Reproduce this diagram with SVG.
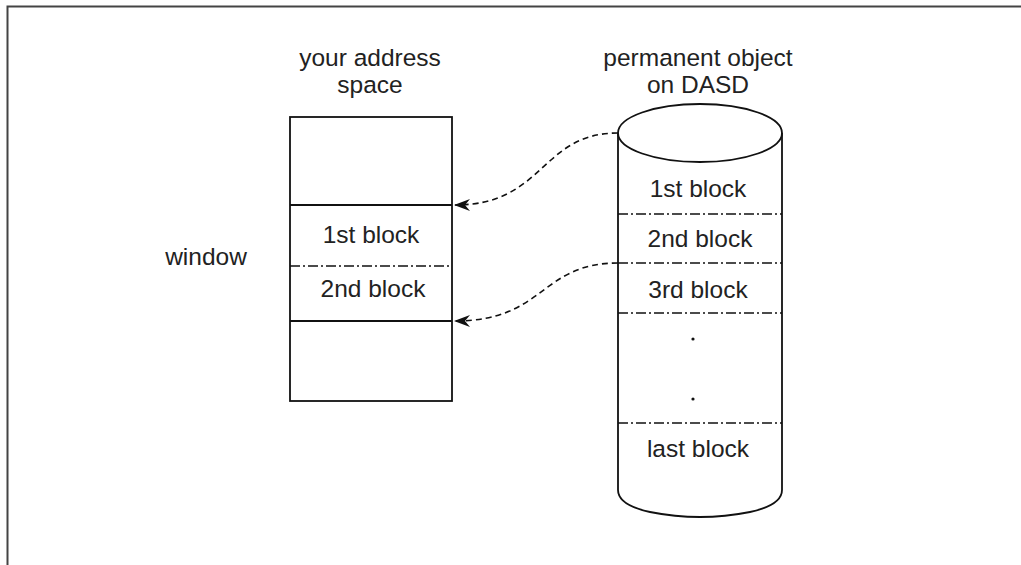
<svg xmlns="http://www.w3.org/2000/svg" width="1021" height="565" viewBox="0 0 1021 565">
<style>
text{font-family:"Liberation Sans",Arial,sans-serif;font-size:24.5px;fill:#222;text-anchor:middle}
.s{fill:none;stroke:#111;stroke-width:1.8}
.dd{fill:none;stroke:#111;stroke-width:1.7;stroke-dasharray:10 3 2 3}
.c{fill:none;stroke:#111;stroke-width:1.6;stroke-dasharray:6 4}
</style>
<defs>
<marker id="ah" viewBox="0 0 16 12" refX="15" refY="6" markerWidth="16" markerHeight="12" markerUnits="userSpaceOnUse" orient="auto">
<path d="M16,6 L0,0 L5,6 L0,12 Z" fill="#111"/>
</marker>
</defs>
<path d="M7.5,565 V6.5 H1021" fill="none" stroke="#444" stroke-width="2"/>
<g id="address-space">
<text x="370" y="66">your address</text>
<text x="370" y="93">space</text>
<rect class="s" x="290" y="117" width="162" height="284"/>
<line class="s" x1="290" y1="205" x2="452" y2="205"/>
<line class="dd" x1="290" y1="266" x2="452" y2="266"/>
<line class="s" x1="290" y1="321" x2="452" y2="321"/>
<text x="371" y="243">1st block</text>
<text x="373" y="297">2nd block</text>
</g>
<g id="window-label">
<text x="206" y="265">window</text>
</g>
<g id="dasd">
<text x="698" y="66">permanent object</text>
<text x="698" y="93">on DASD</text>
<path class="s" d="M618,133 V490 Q618,505 650,512 Q700,522 750,512 Q782,505 782,490 V133"/>
<ellipse class="s" cx="700" cy="133" rx="82" ry="29"/>
<line class="dd" x1="618" y1="214" x2="782" y2="214"/>
<line class="dd" x1="618" y1="263" x2="782" y2="263"/>
<line class="dd" x1="618" y1="313" x2="782" y2="313"/>
<line class="dd" x1="618" y1="423" x2="782" y2="423"/>
<text x="698" y="197">1st block</text>
<text x="700" y="247">2nd block</text>
<text x="698" y="298">3rd block</text>
<text x="698" y="457">last block</text>
<circle cx="693" cy="339" r="1.6" fill="#111"/>
<circle cx="693" cy="399" r="1.6" fill="#111"/>
</g>
<g id="connectors">
<path class="c" d="M618,133 C540,133 545,205 455,205" marker-end="url(#ah)"/>
<path class="c" d="M618,263 C540,263 545,321 455,321" marker-end="url(#ah)"/>
</g>
</svg>
